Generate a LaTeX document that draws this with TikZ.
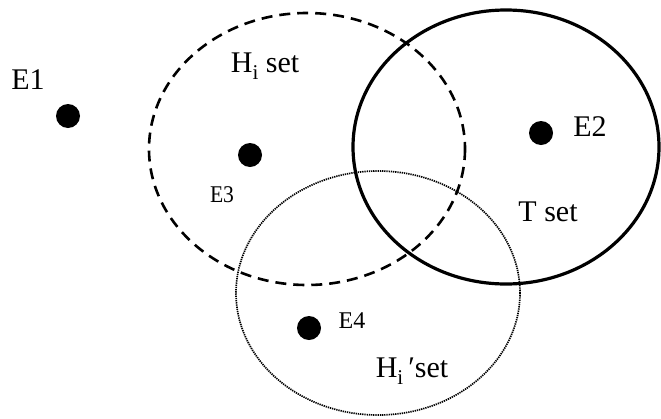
\documentclass[tikz,border=0pt]{standalone}
\usepackage{fontspec}
\setmainfont{Liberation Serif}
\tikzset{
  pt/.style={circle,fill=black,inner sep=0pt,minimum size=24pt},
  biglab/.style={inner sep=0pt,anchor=base,font=\fontsize{30}{32}\selectfont},
  smalllab/.style={inner sep=0pt,anchor=base,font=\fontsize{24}{26}\selectfont},
  hset/.style={draw=black,line width=2.6pt,dash pattern=on 11pt off 7pt},
  tset/.style={draw=black,line width=3.2pt},
  hpset/.style={draw=black,line width=1.7pt,dash pattern=on 1.3pt off 0.9pt}
}
\newcommand{\subi}{\raisebox{-0.25em}{\fontsize{21}{22}\selectfont i}}
\begin{document}
\begin{tikzpicture}[x=1pt,y=-1pt]
\useasboundingbox (0,0) rectangle (661,418);
% sets
\draw[hset] (307,149) ellipse [x radius=158, y radius=136];
\draw[tset] (506,147) ellipse [x radius=153, y radius=137];
\draw[hpset] (378,293) ellipse [x radius=142, y radius=122];
% points
\node[pt] (e1) at (68,116) {};
\node[pt] (e2) at (541,133) {};
\node[pt] (e3) at (250,155) {};
\node[pt] (e4) at (309,328) {};
% labels
\node[biglab] (l1) at (28,89) {E1};
\node[biglab] (l2) at (590,136) {E2};
\node[smalllab,xscale=0.9] (l3) at (222,202) {E3};
\node[smalllab] (l4) at (352,328) {E4};
\node[biglab] (lh) at (265,72) {H\subi{} set};
\node[biglab] (lt) at (548,221) {T set};
\node[biglab] (lhp) at (412,377) {H\subi\,\char"2032set};
\end{tikzpicture}
\end{document}
